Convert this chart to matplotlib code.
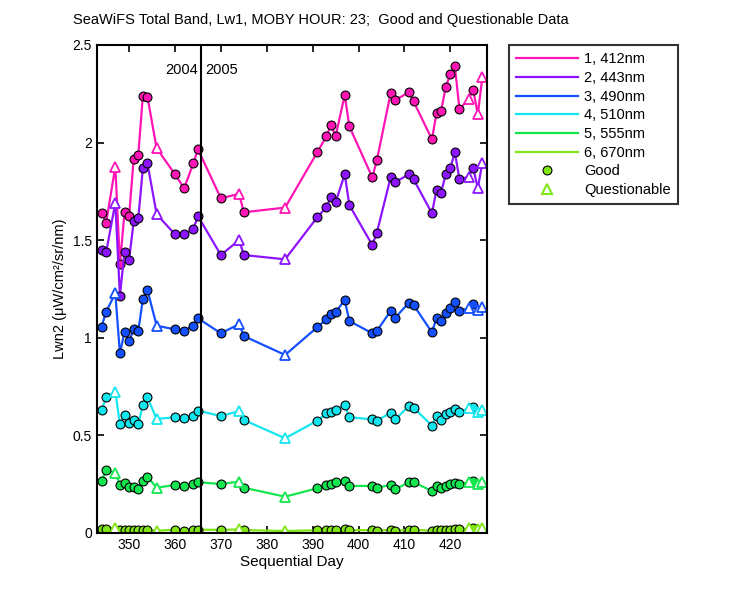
import matplotlib
matplotlib.use("Agg")
from matplotlib import pyplot as plt
from matplotlib.lines import Line2D

plt.rcParams['font.family'] = ['Liberation Sans', 'DejaVu Sans']
plt.rcParams['font.size'] = 10

# sequential days of the match-ups
days = [344, 345, 347, 348, 349, 350, 351, 352, 353, 354, 356, 360, 362, 364, 365,
        370, 374, 375, 384, 391, 393, 394, 395, 397, 398, 403, 404, 407, 408, 411,
        412, 416, 417, 418, 419, 420, 421, 422, 424, 425, 426, 427]
# 1 = questionable, 0 = good
questionable = [0, 0, 1, 0, 0, 0, 0, 0, 0, 0, 1, 0, 0, 0, 0,
                0, 1, 0, 1, 0, 0, 0, 0, 0, 0, 0, 0, 0, 0, 0,
                0, 0, 0, 0, 0, 0, 0, 0, 1, 0, 1, 1]

lw_412 = [1.64, 1.59, 1.877, 1.376, 1.643, 1.624, 1.916, 1.936, 2.239, 2.235, 1.971, 1.838, 1.766, 1.894, 1.966,
          1.715, 1.737, 1.643, 1.667, 1.95, 2.032, 2.09, 2.032, 2.244, 2.083, 1.822, 1.909, 2.252, 2.218, 2.258,
          2.211, 2.017, 2.15, 2.162, 2.283, 2.35, 2.392, 2.172, 2.222, 2.27, 2.146, 2.335]
lw_443 = [1.45, 1.438, 1.692, 1.216, 1.441, 1.399, 1.598, 1.612, 1.868, 1.894, 1.633, 1.53, 1.53, 1.557, 1.624,
          1.424, 1.501, 1.424, 1.402, 1.617, 1.669, 1.723, 1.694, 1.838, 1.68, 1.475, 1.538, 1.822, 1.797, 1.838,
          1.812, 1.638, 1.757, 1.743, 1.838, 1.87, 1.95, 1.812, 1.825, 1.87, 1.766, 1.897]
lw_490 = [1.057, 1.134, 1.228, 0.92, 1.031, 0.983, 1.043, 1.035, 1.197, 1.245, 1.062, 1.043, 1.037, 1.062, 1.10,
          1.023, 1.07, 1.009, 0.912, 1.054, 1.095, 1.12, 1.131, 1.194, 1.086, 1.023, 1.035, 1.137, 1.103, 1.18,
          1.168, 1.028, 1.10, 1.086, 1.125, 1.151, 1.185, 1.139, 1.151, 1.173, 1.143, 1.16]
lw_510 = [0.63, 0.695, 0.724, 0.557, 0.605, 0.562, 0.579, 0.557, 0.656, 0.695, 0.584, 0.593, 0.588, 0.601, 0.627,
          0.599, 0.625, 0.579, 0.485, 0.575, 0.613, 0.621, 0.63, 0.656, 0.593, 0.582, 0.575, 0.616, 0.582, 0.651,
          0.642, 0.55, 0.6, 0.579, 0.61, 0.621, 0.634, 0.618, 0.639, 0.647, 0.621, 0.63]
lw_555 = [0.266, 0.323, 0.309, 0.246, 0.258, 0.237, 0.237, 0.224, 0.266, 0.288, 0.232, 0.246, 0.241, 0.249, 0.26,
          0.251, 0.263, 0.232, 0.186, 0.229, 0.246, 0.251, 0.263, 0.268, 0.241, 0.241, 0.232, 0.246, 0.224, 0.26,
          0.26, 0.215, 0.242, 0.232, 0.241, 0.251, 0.256, 0.251, 0.26, 0.268, 0.251, 0.263]
lw_670 = [0.018, 0.02, 0.028, 0.014, 0.016, 0.015, 0.016, 0.015, 0.017, 0.016, 0.012, 0.016, 0.012, 0.016, 0.017,
          0.016, 0.018, 0.015, 0.01, 0.014, 0.016, 0.016, 0.017, 0.018, 0.015, 0.014, 0.012, 0.016, 0.012, 0.016,
          0.016, 0.012, 0.016, 0.016, 0.017, 0.017, 0.018, 0.018, 0.024, 0.025, 0.02, 0.024]

bands = ["1, 412nm", "2, 443nm", "3, 490nm", "4, 510nm", "5, 555nm", "6, 670nm"]
colors = ["#ff14b4", "#8c14ff", "#1450ff", "#14e6f0", "#14e650", "#80e614"]
series = [lw_412, lw_443, lw_490, lw_510, lw_555, lw_670]

fig = plt.figure(figsize=(7.5, 6), dpi=100)
ax = fig.add_axes([0.1293, 0.1117, 0.52, 0.8133])

handles = []
for name, col, vals in zip(bands, colors, series):
    h, = ax.plot(days, vals, color=col, linewidth=1.6, label=name)
    handles.append(h)
    gx = [d for d, q in zip(days, questionable) if q == 0]
    gy = [v for v, q in zip(vals, questionable) if q == 0]
    qx = [d for d, q in zip(days, questionable) if q == 1]
    qy = [v for v, q in zip(vals, questionable) if q == 1]
    ax.plot(gx, gy, linestyle="none", marker="o", markersize=6.4,
            markerfacecolor=col, markeredgecolor="black", markeredgewidth=0.8)
    ax.plot(qx, qy, linestyle="none", marker="^", markersize=7.5,
            markerfacecolor="white", markeredgecolor=col, markeredgewidth=1.3)

year_break = 365.7
ax.axvline(year_break, color="black", linewidth=1.5)
ax.text(year_break - 0.6, 2.37, "2004", ha="right", va="center", fontsize=10.5)
ax.text(year_break + 0.8, 2.37, "2005", ha="left", va="center", fontsize=10.5)

ax.set_xlim(343, 428)
ax.set_ylim(0, 2.5)
ax.set_xticks([350, 360, 370, 380, 390, 400, 410, 420])
ax.set_yticks([0, 0.5, 1, 1.5, 2, 2.5])
ax.set_yticklabels(["0", "0.5", "1", "1.5", "2", "2.5"])
ax.tick_params(direction="in", top=True, right=True, length=5, width=1.2, labelsize=10)
for s in ax.spines.values():
    s.set_linewidth(1.5)

ax.set_xlabel("Sequential Day", fontsize=11, labelpad=2)
ax.set_ylabel("Lwn2 (\u03bcW/cm\u00b2/sr/nm)", fontsize=10.5, labelpad=4)
fig.text(73 / 750, 1 - 20 / 600, "SeaWiFS Total Band, Lw1, MOBY HOUR: 23;  Good and Questionable Data",
         ha="left", va="center", fontsize=10.5)

handles.append(Line2D([], [], linestyle="none", marker="o", markersize=6.4,
                      markerfacecolor="#80e614", markeredgecolor="black", markeredgewidth=0.8))
handles.append(Line2D([], [], linestyle="none", marker="^", markersize=7.5,
                      markerfacecolor="white", markeredgecolor="#80e614", markeredgewidth=1.5))
labels = bands + ["Good", "Questionable"]
leg = fig.legend(handles, labels, loc="upper left", bbox_to_anchor=(509 / 750, 1 - 45 / 600),
                 borderaxespad=0, frameon=True, fancybox=False, edgecolor="black",
                 handlelength=4.2, labelspacing=0.32, handletextpad=0.45, borderpad=0.5,
                 fontsize=10.5)
leg.get_frame().set_linewidth(1.5)

fig.savefig("out.png", dpi=100)
